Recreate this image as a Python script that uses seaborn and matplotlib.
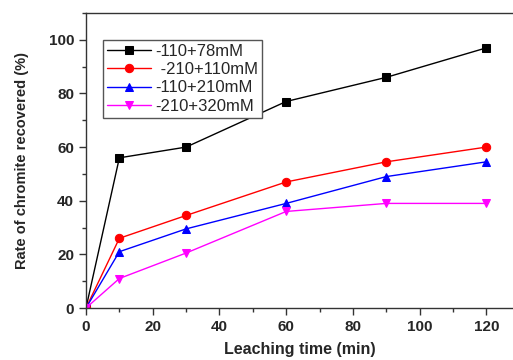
import matplotlib
matplotlib.use("Agg")
import matplotlib.pyplot as plt
import seaborn as sns
import pandas as pd
from matplotlib.ticker import MultipleLocator

time_min = [0, 10, 30, 60, 90, 120]
s1 = [0, 56, 60, 77, 86, 97]
s2 = [0, 26, 34.5, 47, 54.5, 60]
s3 = [0, 21, 29.5, 39, 49, 54.5]
s4 = [0, 11, 20.5, 36, 39, 39]
labels = ["-110+78mM", " -210+110mM", "-110+210mM", "-210+320mM"]
colors = ["black", "red", "blue", "magenta"]
markers = ["s", "o", "^", "v"]

sns.set_theme(style="ticks")
plt.rcParams['font.family'] = ['Liberation Sans', 'DejaVu Sans']

rows = []
for lab, vals in zip(labels, [s1, s2, s3, s4]):
    for t, v in zip(time_min, vals):
        rows.append({"time": t, "rate": v, "series": lab})
df = pd.DataFrame(rows)

fig = plt.figure(figsize=(5.13, 3.6), dpi=100)
ax = fig.add_axes([86/513, 1-308/360, 427/513, (308-13)/360])

for lab, c, m in zip(labels, colors, markers):
    d = df[df.series == lab]
    sns.lineplot(data=d, x="time", y="rate", ax=ax, color=c, marker=m,
                 markersize=6, markeredgecolor=c, linewidth=1.0, label=lab)

ax.set_xlim(0, 128)
ax.set_ylim(0, 110)
ax.xaxis.set_major_locator(MultipleLocator(20))
ax.xaxis.set_minor_locator(MultipleLocator(10))
ax.yaxis.set_major_locator(MultipleLocator(20))
ax.yaxis.set_minor_locator(MultipleLocator(10))
ax.tick_params(which="major", direction="out", length=5, width=1, labelsize=11, color="#333333")
ax.tick_params(which="minor", direction="out", length=3, width=1, color="#333333")
for lbl in ax.get_xticklabels() + ax.get_yticklabels():
    lbl.set_fontweight("bold")
for sp in ax.spines.values():
    sp.set_color("#333333")
    sp.set_linewidth(1.0)
ax.spines["right"].set_visible(False)

ax.set_xlabel("Leaching time (min)", fontsize=11.5, fontweight="bold", labelpad=6)
ax.set_ylabel("Rate of chromite recovered (%)", fontsize=10.5, fontweight="bold", labelpad=14)

leg = ax.legend(loc="upper left", bbox_to_anchor=(0.04, 0.91), fontsize=12,
                frameon=True, fancybox=False, edgecolor="#555555",
                handlelength=2.6, handletextpad=0.3, borderpad=0.25, labelspacing=0.2,
                borderaxespad=0)
leg.get_frame().set_linewidth(1.0)
leg.get_frame().set_alpha(1.0)

fig.savefig("out.png", dpi=100)
